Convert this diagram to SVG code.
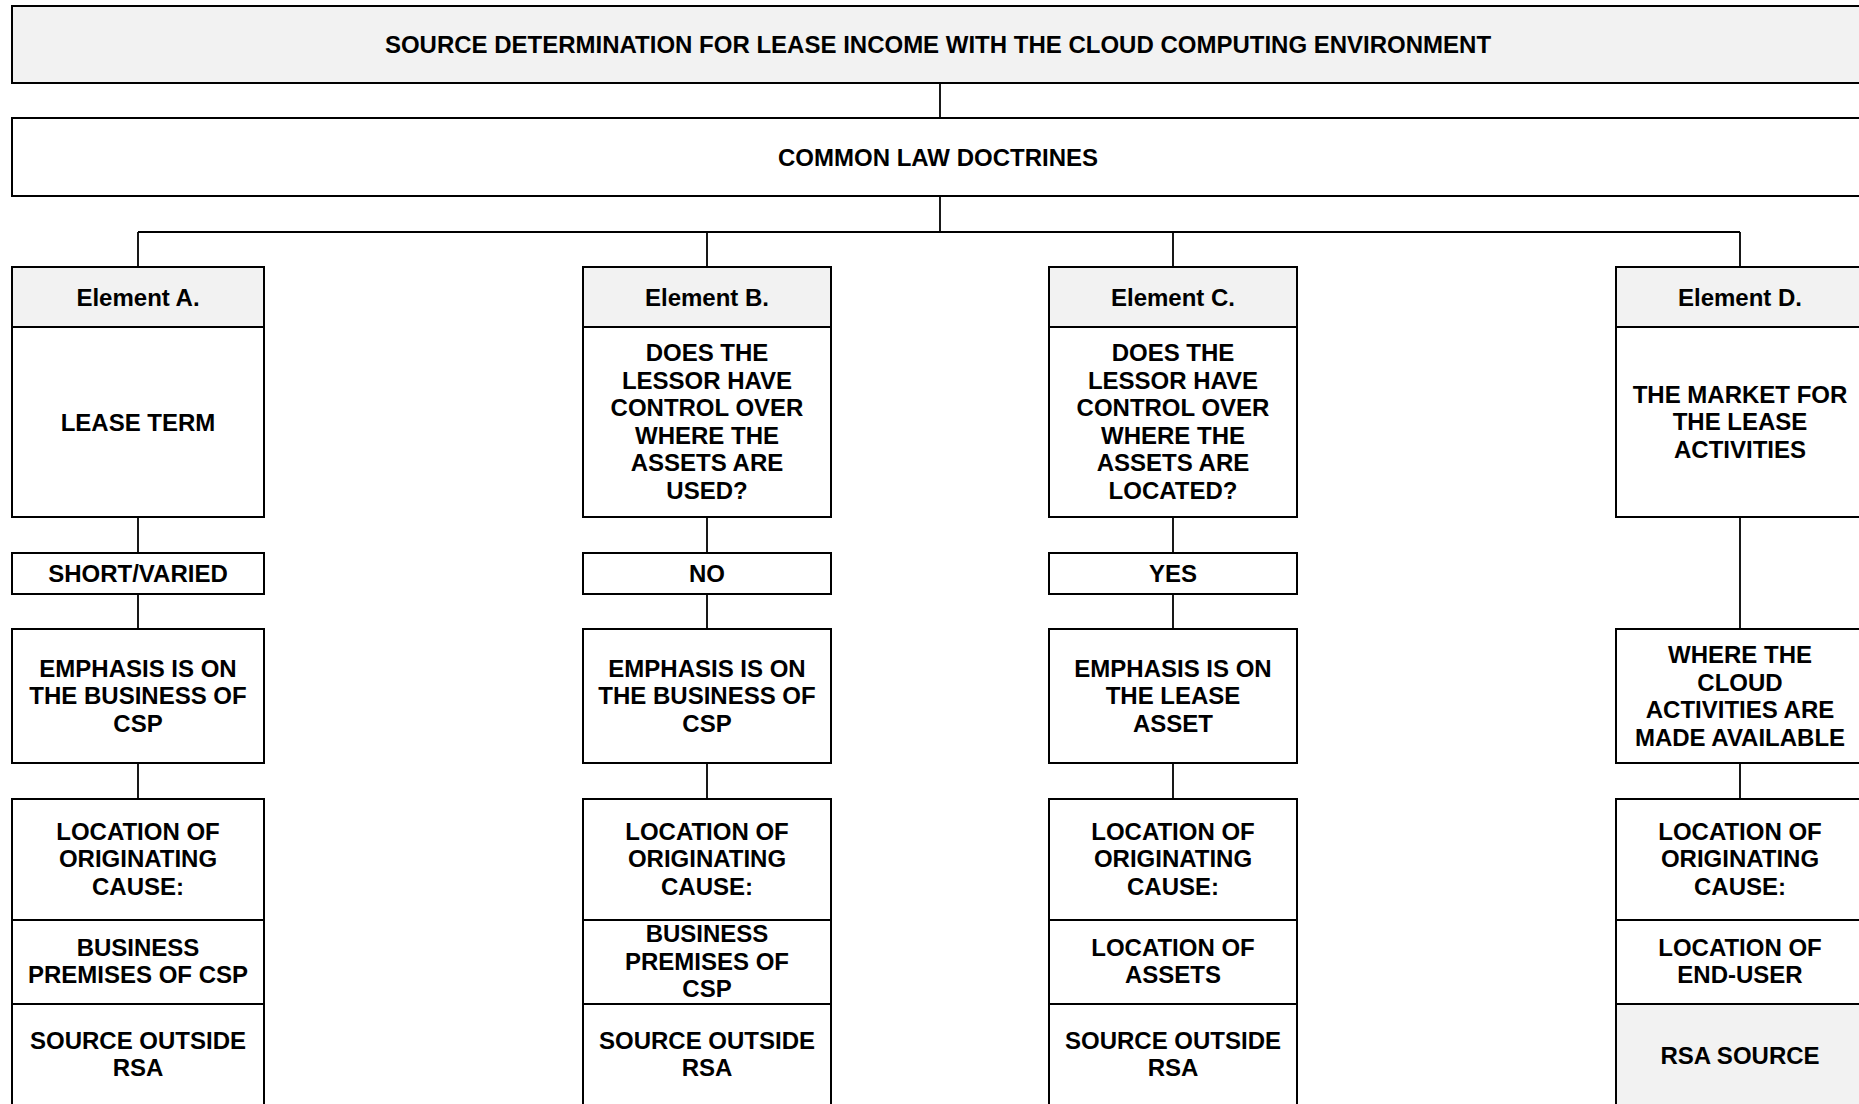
<svg xmlns="http://www.w3.org/2000/svg" width="1859" height="1104" viewBox="0 0 1859 1104">
<style>
  .box{fill:#ffffff;stroke:#000000;stroke-width:2}
  .gray{fill:#f2f2f2;stroke:#000000;stroke-width:2}
  .conn{fill:none;stroke:#000000;stroke-width:1.8}
  text{font-family:"Liberation Sans",Arial,Helvetica,sans-serif;font-weight:bold;font-size:24px;fill:#000000;text-anchor:middle}
</style>
<rect x="0" y="0" width="1859" height="1104" fill="#ffffff"/>
<g id="connectors">
  <path class="conn" d="M940 83V118"/>
  <path class="conn" d="M940 196V232"/>
  <path class="conn" d="M138 232H1740"/>
  <path class="conn" d="M138 232V267M707 232V267M1173 232V267M1740 232V267"/>
  <path class="conn" d="M138 517V553M138 594V629M138 763V799"/>
  <path class="conn" d="M707 517V553M707 594V629M707 763V799"/>
  <path class="conn" d="M1173 517V553M1173 594V629M1173 763V799"/>
  <path class="conn" d="M1740 517V629M1740 763V799"/>
</g>
<g id="title">
  <rect class="gray" x="12" y="6" width="1852" height="77"/>
  <text x="938" y="53">SOURCE DETERMINATION FOR LEASE INCOME WITH THE CLOUD COMPUTING ENVIRONMENT</text>
</g>
<g id="common-law">
  <rect class="box" x="12" y="118" width="1852" height="78"/>
  <text x="938" y="165.5">COMMON LAW DOCTRINES</text>
</g>
<!-- Element A -->
<g id="element-a">
  <rect class="gray" x="12" y="267" width="252" height="60"/>
  <text x="138" y="305.5">Element A.</text>
</g>
<g id="a-lease-term">
  <rect class="box" x="12" y="327" width="252" height="190"/>
  <text x="138" y="430.5">LEASE TERM</text>
</g>
<g id="a-short">
  <rect class="box" x="12" y="553" width="252" height="41"/>
  <text x="138" y="581.5">SHORT/VARIED</text>
</g>
<g id="a-emphasis">
  <rect class="box" x="12" y="629" width="252" height="134"/>
  <text x="138" y="676.5">EMPHASIS IS ON</text>
  <text x="138" y="704">THE BUSINESS OF</text>
  <text x="138" y="731.5">CSP</text>
</g>
<g id="a-location">
  <rect class="box" x="12" y="799" width="252" height="121"/>
  <text x="138" y="839.5">LOCATION OF</text>
  <text x="138" y="867">ORIGINATING</text>
  <text x="138" y="894.5">CAUSE:</text>
</g>
<g id="a-premises">
  <rect class="box" x="12" y="920" width="252" height="84"/>
  <text x="138" y="955.5">BUSINESS</text>
  <text x="138" y="983">PREMISES OF CSP</text>
</g>
<g id="a-source">
  <rect class="box" x="12" y="1004" width="252" height="102"/>
  <text x="138" y="1048.5">SOURCE OUTSIDE</text>
  <text x="138" y="1076">RSA</text>
</g>
<!-- Element B -->
<g id="element-b">
  <rect class="gray" x="583" y="267" width="248" height="60"/>
  <text x="707" y="305.5">Element B.</text>
</g>
<g id="b-question">
  <rect class="box" x="583" y="327" width="248" height="190"/>
  <text x="707" y="361">DOES THE</text>
  <text x="707" y="388.5">LESSOR HAVE</text>
  <text x="707" y="416">CONTROL OVER</text>
  <text x="707" y="443.5">WHERE THE</text>
  <text x="707" y="471">ASSETS ARE</text>
  <text x="707" y="498.5">USED?</text>
</g>
<g id="b-no">
  <rect class="box" x="583" y="553" width="248" height="41"/>
  <text x="707" y="581.5">NO</text>
</g>
<g id="b-emphasis">
  <rect class="box" x="583" y="629" width="248" height="134"/>
  <text x="707" y="676.5">EMPHASIS IS ON</text>
  <text x="707" y="704">THE BUSINESS OF</text>
  <text x="707" y="731.5">CSP</text>
</g>
<g id="b-location">
  <rect class="box" x="583" y="799" width="248" height="121"/>
  <text x="707" y="839.5">LOCATION OF</text>
  <text x="707" y="867">ORIGINATING</text>
  <text x="707" y="894.5">CAUSE:</text>
</g>
<g id="b-premises">
  <rect class="box" x="583" y="920" width="248" height="84"/>
  <text x="707" y="942">BUSINESS</text>
  <text x="707" y="969.5">PREMISES OF</text>
  <text x="707" y="997">CSP</text>
</g>
<g id="b-source">
  <rect class="box" x="583" y="1004" width="248" height="102"/>
  <text x="707" y="1048.5">SOURCE OUTSIDE</text>
  <text x="707" y="1076">RSA</text>
</g>
<!-- Element C -->
<g id="element-c">
  <rect class="gray" x="1049" y="267" width="248" height="60"/>
  <text x="1173" y="305.5">Element C.</text>
</g>
<g id="c-question">
  <rect class="box" x="1049" y="327" width="248" height="190"/>
  <text x="1173" y="361">DOES THE</text>
  <text x="1173" y="388.5">LESSOR HAVE</text>
  <text x="1173" y="416">CONTROL OVER</text>
  <text x="1173" y="443.5">WHERE THE</text>
  <text x="1173" y="471">ASSETS ARE</text>
  <text x="1173" y="498.5">LOCATED?</text>
</g>
<g id="c-yes">
  <rect class="box" x="1049" y="553" width="248" height="41"/>
  <text x="1173" y="581.5">YES</text>
</g>
<g id="c-emphasis">
  <rect class="box" x="1049" y="629" width="248" height="134"/>
  <text x="1173" y="676.5">EMPHASIS IS ON</text>
  <text x="1173" y="704">THE LEASE</text>
  <text x="1173" y="731.5">ASSET</text>
</g>
<g id="c-location">
  <rect class="box" x="1049" y="799" width="248" height="121"/>
  <text x="1173" y="839.5">LOCATION OF</text>
  <text x="1173" y="867">ORIGINATING</text>
  <text x="1173" y="894.5">CAUSE:</text>
</g>
<g id="c-assets">
  <rect class="box" x="1049" y="920" width="248" height="84"/>
  <text x="1173" y="955.5">LOCATION OF</text>
  <text x="1173" y="983">ASSETS</text>
</g>
<g id="c-source">
  <rect class="box" x="1049" y="1004" width="248" height="102"/>
  <text x="1173" y="1048.5">SOURCE OUTSIDE</text>
  <text x="1173" y="1076">RSA</text>
</g>
<!-- Element D -->
<g id="element-d">
  <rect class="gray" x="1616" y="267" width="248" height="60"/>
  <text x="1740" y="305.5">Element D.</text>
</g>
<g id="d-market">
  <rect class="box" x="1616" y="327" width="248" height="190"/>
  <text x="1740" y="402.5">THE MARKET FOR</text>
  <text x="1740" y="430">THE LEASE</text>
  <text x="1740" y="457.5">ACTIVITIES</text>
</g>
<g id="d-where">
  <rect class="box" x="1616" y="629" width="248" height="134"/>
  <text x="1740" y="663">WHERE THE</text>
  <text x="1740" y="690.5">CLOUD</text>
  <text x="1740" y="718">ACTIVITIES ARE</text>
  <text x="1740" y="745.5">MADE AVAILABLE</text>
</g>
<g id="d-location">
  <rect class="box" x="1616" y="799" width="248" height="121"/>
  <text x="1740" y="839.5">LOCATION OF</text>
  <text x="1740" y="867">ORIGINATING</text>
  <text x="1740" y="894.5">CAUSE:</text>
</g>
<g id="d-enduser">
  <rect class="box" x="1616" y="920" width="248" height="84"/>
  <text x="1740" y="955.5">LOCATION OF</text>
  <text x="1740" y="983">END-USER</text>
</g>
<g id="d-source">
  <rect class="gray" x="1616" y="1004" width="248" height="102"/>
  <text x="1740" y="1063.5">RSA SOURCE</text>
</g>
</svg>
